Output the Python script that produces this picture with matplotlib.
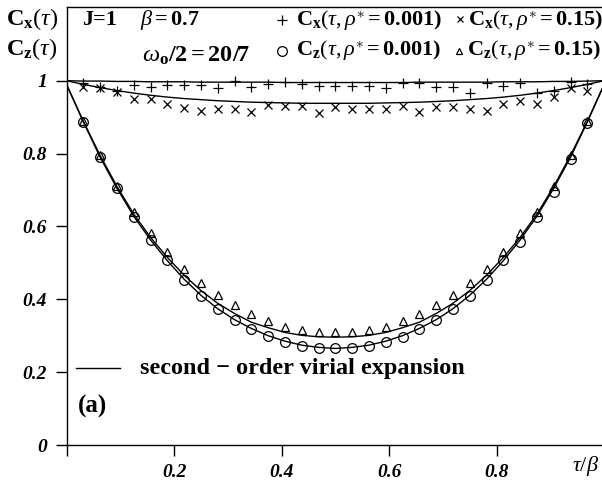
import matplotlib
matplotlib.use("Agg")
import matplotlib.pyplot as plt

plt.rcParams["font.family"] = ["Liberation Serif", "DejaVu Serif"]
plt.rcParams["mathtext.fontset"] = "custom"
plt.rcParams["mathtext.rm"] = "Liberation Serif"
plt.rcParams["mathtext.it"] = "Liberation Serif:italic"
plt.rcParams["mathtext.bf"] = "Liberation Serif:bold"

# imaginary-time grid of the simulation points (tau/beta = k/32)
tau_pts = [k / 32 for k in range(1, 32)]
# grid of the second-order virial curves
tau_line = [k / 32 for k in range(0, 33)]

cx_rho001 = [0.993, 0.984, 0.973, 0.988, 0.982, 0.988, 0.988, 0.988, 0.979, 1.000,
             0.984, 0.991, 0.997, 0.991, 0.985, 0.985, 0.985, 0.985, 0.979, 0.994,
             0.993, 0.982, 0.982, 0.965, 0.993, 0.985, 0.993, 0.967, 0.973, 0.997,
             0.991]
cx_rho015 = [0.984, 0.979, 0.970, 0.949, 0.949, 0.936, 0.924, 0.918, 0.921, 0.921,
             0.915, 0.933, 0.931, 0.931, 0.912, 0.927, 0.921, 0.921, 0.921, 0.930,
             0.914, 0.929, 0.927, 0.921, 0.918, 0.936, 0.945, 0.936, 0.954, 0.979,
             0.973]
cz_rho001 = [0.887, 0.790, 0.705, 0.627, 0.563, 0.507, 0.453, 0.409, 0.372, 0.343,
             0.318, 0.299, 0.283, 0.272, 0.267, 0.265, 0.267, 0.272, 0.284, 0.297,
             0.318, 0.343, 0.372, 0.409, 0.453, 0.507, 0.558, 0.627, 0.695, 0.784,
             0.883]
cz_rho015 = [0.889, 0.795, 0.712, 0.640, 0.581, 0.531, 0.482, 0.444, 0.412, 0.384,
             0.360, 0.341, 0.323, 0.316, 0.311, 0.311, 0.311, 0.316, 0.323, 0.341,
             0.360, 0.384, 0.412, 0.444, 0.482, 0.531, 0.581, 0.640, 0.712, 0.795,
             0.889]

virial_cx001 = [1.000, 0.999, 0.999, 0.998, 0.998, 0.997, 0.997, 0.997, 0.996, 0.996,
                0.996, 0.996, 0.996, 0.995, 0.995, 0.995, 0.995, 0.995, 0.995, 0.995,
                0.995, 0.996, 0.996, 0.996, 0.996, 0.996, 0.997, 0.997, 0.997, 0.998,
                0.998, 0.999, 1.000]
virial_cx015 = [1.000, 0.990, 0.981, 0.973, 0.966, 0.960, 0.955, 0.951, 0.948, 0.945,
                0.943, 0.941, 0.940, 0.939, 0.938, 0.938, 0.938, 0.938, 0.938, 0.939,
                0.940, 0.941, 0.943, 0.945, 0.948, 0.951, 0.955, 0.960, 0.966, 0.973,
                0.981, 0.990, 1.000]
virial_cz001 = [0.990, 0.887, 0.790, 0.705, 0.628, 0.563, 0.506, 0.455, 0.411, 0.374,
                0.344, 0.320, 0.300, 0.285, 0.274, 0.268, 0.265, 0.268, 0.274, 0.285,
                0.300, 0.320, 0.344, 0.374, 0.411, 0.455, 0.506, 0.563, 0.628, 0.705,
                0.790, 0.887, 0.990]
virial_cz015 = [0.990, 0.889, 0.795, 0.710, 0.634, 0.570, 0.515, 0.466, 0.424, 0.389,
                0.361, 0.337, 0.322, 0.309, 0.301, 0.297, 0.296, 0.297, 0.301, 0.309,
                0.322, 0.337, 0.361, 0.389, 0.424, 0.466, 0.515, 0.570, 0.634, 0.710,
                0.795, 0.889, 0.990]

x_ticks = [0, 0.2, 0.4, 0.6, 0.8]
x_ticklabels = ["", "0.2", "0.4", "0.6", "0.8"]
y_ticks = [0, 0.2, 0.4, 0.6, 0.8, 1.0]
y_ticklabels = ["0", "0.2", "0.4", "0.6", "0.8", "1"]

W, H = 602, 480
fig = plt.figure(figsize=(W / 100, H / 100), dpi=100)


def fpos(x, y):
    """pixel position (origin top-left) -> figure fraction"""
    return x / W, 1 - y / H


ax_left, ax_right_px = 66.5, 66.5 + 537.7
ax_bottom, ax_top_px = 445.0, 6.5
ax = fig.add_axes([ax_left / W, 1 - ax_bottom / H,
                   (ax_right_px - ax_left) / W, (ax_bottom - ax_top_px) / H])
ax.set_xlim(0, 1.0)
ax.set_ylim(0, (ax_bottom - ax_top_px) / 364.3)

lw = 1.0
for curve in (virial_cx001, virial_cx015, virial_cz001, virial_cz015):
    ax.plot(tau_line, curve, color="black", lw=lw, zorder=2)

ax.plot(tau_pts, cx_rho001, ls="none", marker="+", ms=7, mew=0.9, color="black", zorder=3)
ax.plot(tau_pts, cx_rho015, ls="none", marker="x", ms=6, mew=0.9, color="black", zorder=3)
ax.plot(tau_pts, cz_rho001, ls="none", marker="o", ms=7, mew=0.9, mfc="none",
        color="black", zorder=3)
ax.plot(tau_pts, cz_rho015, ls="none", marker="^", ms=5.5, mew=0.9, mfc="none",
        color="black", zorder=3)

ax.spines["right"].set_visible(False)
for s in ("left", "bottom", "top"):
    ax.spines[s].set_linewidth(1.0)
ax.set_xticks(x_ticks)
ax.set_xticklabels(x_ticklabels)
ax.set_yticks(y_ticks)
ax.set_yticklabels(y_ticklabels)
ax.tick_params(direction="out", length=8, width=1.0, pad=6)
for lab in ax.get_xticklabels() + ax.get_yticklabels():
    lab.set_fontstyle("italic")
    lab.set_fontweight("bold")
    lab.set_fontsize(14)

ts = 16
# axis titles at the top left
fig.text(*fpos(6, 25), r"$\mathbf{C}_{\mathbf{x}}(\tau)$", fontsize=17.5, va="baseline")
fig.text(*fpos(6, 55), r"$\mathbf{C}_{\mathbf{z}}(\tau)$", fontsize=17.5, va="baseline")
fig.text(*fpos(82, 25), "J=1", fontsize=ts, fontweight="bold", va="baseline")
fig.text(*fpos(140, 25), r"$\beta\mathbf{=0.7}$", fontsize=ts, va="baseline")
fig.text(*fpos(142, 62), r"$\omega_{\mathbf{o}}\mathbf{/2=20/7}$", fontsize=17.5, va="baseline")

# key for the simulation points
key = [
    ((282, 20), "+", "none", 7, (296, 25), r"$\mathbf{C}_{\mathbf{x}}(\tau,\rho^{\ast}\mathbf{=0.001)}$"),
    ((460, 19), "x", "none", 5, (468, 25), r"$\mathbf{C}_{\mathbf{x}}(\tau,\rho^{\ast}\mathbf{=0.15)}$"),
    ((282, 51), "o", "none", 7, (296, 55), r"$\mathbf{C}_{\mathbf{z}}(\tau,\rho^{\ast}\mathbf{=0.001)}$"),
    ((459, 51), "^", "none", 5, (467, 55), r"$\mathbf{C}_{\mathbf{z}}(\tau,\rho^{\ast}\mathbf{=0.15)}$"),
]
for (mx, my), m, fc, ms, (tx, ty), label in key:
    fx, fy = fpos(mx, my)
    fig.add_artist(plt.Line2D([fx], [fy], transform=fig.transFigure, marker=m, ms=ms,
                              mew=0.9, mfc=fc, color="black", ls="none"))
    fig.text(*fpos(tx, ty), label, fontsize=ts, va="baseline")

# key for the curves
x0, y0 = fpos(76, 368)
x1, _ = fpos(120, 368)
fig.add_artist(plt.Line2D([x0, x1], [y0, y0], transform=fig.transFigure, color="black", lw=lw))
fig.text(*fpos(140, 374), "second \u2212 order virial expansion", fontsize=17.5,
         fontweight="bold", va="baseline")
fig.text(*fpos(78, 413), "(a)", fontsize=18, fontweight="bold", va="baseline")
fig.text(*fpos(586, 466), r"$\tau/\beta$", fontsize=16, ha="center", va="center")

fig.savefig("out.png", dpi=100)
